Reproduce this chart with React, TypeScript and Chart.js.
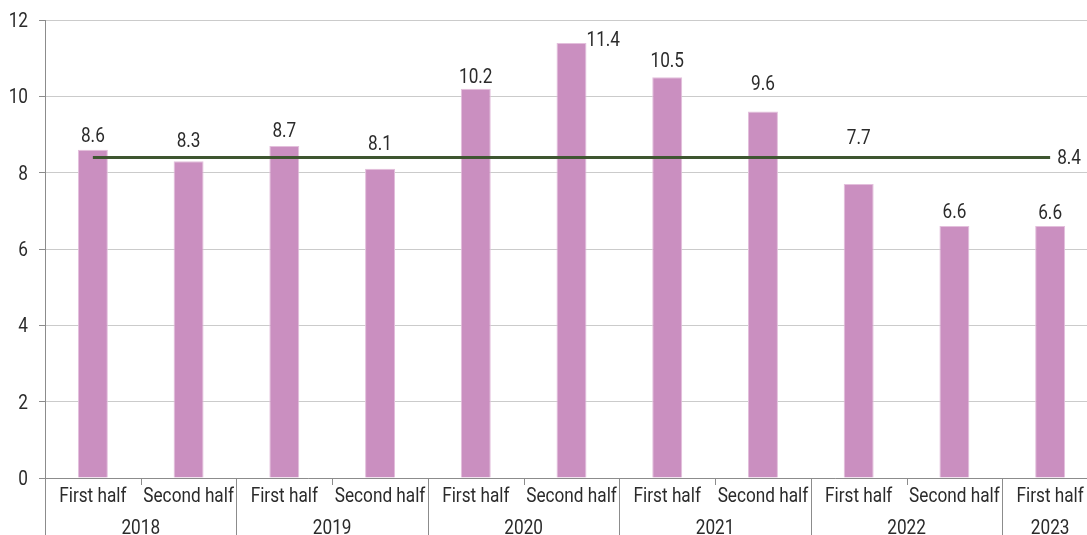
import React, { useEffect, useRef } from "react";
import { Chart, registerables } from "chart.js";

Chart.register(...registerables);

const halves = ["First half", "Second half", "First half", "Second half", "First half", "Second half", "First half", "Second half", "First half", "Second half", "First half"];
const years = ["2018", "2019", "2020", "2021", "2022", "2023"];
const yearSpans = [2, 2, 2, 2, 2, 1];
const values = [8.6, 8.3, 8.7, 8.1, 10.2, 11.4, 10.5, 9.6, 7.7, 6.6, 6.6];
const average = 8.4;
const yTicks = [0, 2, 4, 6, 8, 10, 12];

// label gaps (px) between bar top and label bottom
const LABEL_GAPS = [8, 14, 9, 19, 6, 0, 10, 22, 40, 8, 7];
const RIGHT_LABEL_INDEX = 5;

const FONT = "Roboto, sans-serif";
const FONT_SIZE = 20;
const SX = 0.86;
const TEXT = "#2b2b2b";
const BAR = "#CA8FC0";
const LINE = "#3E5630";
const AXIS = "#8c8c8c";
const GRID = "#cbcbcb";

function drawText(ctx: CanvasRenderingContext2D, txt: string, x: number, y: number, align: CanvasTextAlign, baseline: CanvasTextBaseline) {
  ctx.save();
  ctx.translate(x, y);
  ctx.scale(SX, 1);
  ctx.textAlign = align;
  ctx.textBaseline = baseline;
  ctx.fillText(txt, 0, 0);
  ctx.restore();
}

const labelsPlugin = {
  id: "customLabels",
  afterDatasetsDraw(chart: any) {
    const ctx = chart.ctx;
    const area = chart.chartArea;
    ctx.save();
    ctx.font = `${FONT_SIZE}px ${FONT}`;
    ctx.fillStyle = TEXT;
    // y tick labels
    const ys = chart.scales.y;
    yTicks.forEach((v) => {
      drawText(ctx, String(v), 28, ys.getPixelForValue(v) + 2, "right", "middle");
    });
    // bar labels
    const barMeta = chart.getDatasetMeta(0);
    barMeta.data.forEach((el: any, i: number) => {
      const txt = values[i].toFixed(1);
      if (i === RIGHT_LABEL_INDEX) {
        drawText(ctx, txt, el.x + el.width / 2, el.y - 2, "left", "middle");
      } else {
        drawText(ctx, txt, el.x, el.y - LABEL_GAPS[i], "center", "alphabetic");
      }
    });
    // average label
    const lineMeta = chart.getDatasetMeta(1);
    const last = lineMeta.data[lineMeta.data.length - 1];
    drawText(ctx, average.toFixed(1), last.x + 7, last.y + 2, "left", "middle");

    // x axis multi-level labels and separators
    const xs = chart.scales.x;
    const n = halves.length;
    const catW = (area.right - area.left) / n;
    const bottom = chart.height;
    ctx.strokeStyle = AXIS;
    ctx.lineWidth = 1;
    ctx.beginPath();
    ctx.moveTo(Math.round(area.left) + 0.5, area.bottom);
    ctx.lineTo(Math.round(area.left) + 0.5, bottom);
    ctx.stroke();
    for (let i = 0; i < n; i++) {
      drawText(ctx, halves[i], xs.getPixelForValue(i), area.bottom + 19, "center", "middle");
    }
    let idx = 0;
    years.forEach((y, k) => {
      const start = area.left + idx * catW;
      const end = start + yearSpans[k] * catW;
      drawText(ctx, y, (start + end) / 2, area.bottom + 51, "center", "middle");
      for (let j = 1; j < yearSpans[k]; j++) {
        const x = Math.round(start + j * catW) + 0.5;
        ctx.beginPath();
        ctx.moveTo(x, area.bottom);
        ctx.lineTo(x, area.bottom + 7);
        ctx.stroke();
      }
      const xe = Math.round(end) + 0.5;
      ctx.beginPath();
      ctx.moveTo(xe, area.bottom);
      ctx.lineTo(xe, bottom);
      ctx.stroke();
      idx += yearSpans[k];
    });
    ctx.restore();
  },
};

export default function App() {
  const ref = useRef<HTMLCanvasElement>(null);
  useEffect(() => {
    if (!ref.current) return;
    const chart = new Chart(ref.current, {
      type: "bar",
      data: {
        labels: halves,
        datasets: [
          {
            type: "bar",
            data: values,
            backgroundColor: BAR,
            borderColor: "#e3bfdc",
            borderWidth: 1,
            barPercentage: 0.313,
            categoryPercentage: 1,
            order: 2,
          },
          {
            type: "line",
            data: values.map(() => average),
            borderColor: LINE,
            borderWidth: 3,
            pointRadius: 0,
            fill: false,
            order: 1,
          } as any,
        ],
      },
      options: {
        animation: false,
        responsive: false,
        maintainAspectRatio: false,
        layout: { padding: { top: 20, right: 0, left: 0, bottom: 0 } },
        plugins: { legend: { display: false }, tooltip: { enabled: false } },
        scales: {
          x: {
            ticks: { display: false },
            grid: { display: false },
            border: { display: true, color: AXIS, width: 1 },
            afterFit: (s: any) => {
              s.height = 57;
            },
          },
          y: {
            min: 0,
            max: 12,
            afterBuildTicks: (s: any) => {
              s.ticks = yTicks.map((v) => ({ value: v }));
            },
            ticks: { display: false },
            grid: { color: GRID, tickLength: 6, tickColor: AXIS, drawOnChartArea: true, drawTicks: true },
            border: { display: true, color: AXIS, width: 1 },
            afterFit: (s: any) => {
              s.width = 45;
            },
          },
        },
      },
      plugins: [labelsPlugin],
    });
    return () => chart.destroy();
  }, []);
  return (
    <div style={{ position: "absolute", left: 0, top: 0, width: 1087, height: 535, overflow: "hidden", background: "#fff" }}>
      <canvas ref={ref} width={1098} height={535} style={{ width: 1098, height: 535, display: "block" }} />
    </div>
  );
}
